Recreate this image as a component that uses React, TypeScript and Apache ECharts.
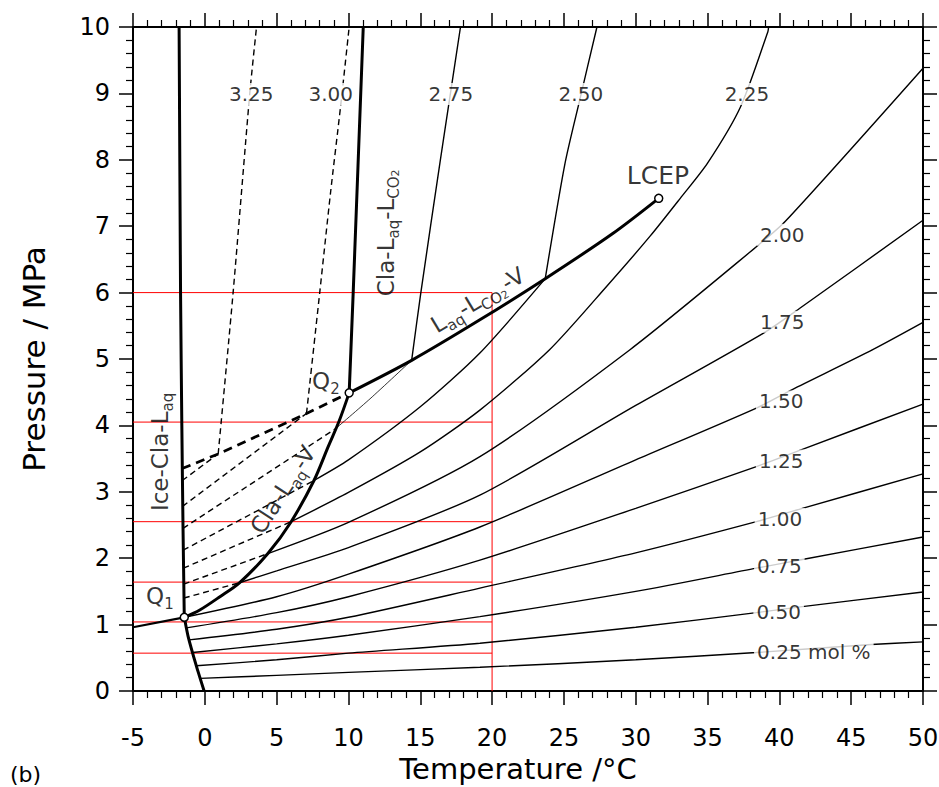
import React, { useEffect, useRef } from 'react';
import * as echarts from 'echarts';

const FONT = 'DejaVu Sans';

// Axis ranges (Temperature °C, Pressure MPa)
const xMin = -5;
const xMax = 50;
const xStep = 5;
const yMin = 0;
const yMax = 10;
const yStep = 1;

// Phase boundaries [T, P]
const iceClaLaq = [[-1.43, 1.11], [-1.52, 2.5], [-1.6, 4.0], [-1.69, 6.0], [-1.79, 10]];
const iceLaqV = [[-5, 0.96], [-1.43, 1.11]];
const iceLaqLow = [[-1.43, 1.11], [-1.16, 0.82], [-0.58, 0.37], [-0.05, 0]];
const claLaqV = [[-1.43, 1.11], [-0.35, 1.22], [1.05, 1.42], [2.41, 1.63], [4.39, 2.07], [6.01, 2.55], [7.6, 3.17], [8.59, 3.68], [9.36, 4.07], [10.05, 4.49]];
const claLaqLco2 = [[10.05, 4.49], [10.33, 6.0], [11.03, 10]];
const laqLco2V = [[10.05, 4.49], [14.4, 4.98], [19.15, 5.59], [23.7, 6.21], [28.4, 6.89], [31.6, 7.42]];
const metastableLV = [[-1.58, 3.35], [0.93, 3.57], [7.08, 4.18], [10.05, 4.49]];

// CO2 isopleths (mol %), solid parts
const iso025 = [[-0.32, 0.19], [5, 0.235], [10, 0.28], [19.15, 0.357], [30, 0.47], [38.4, 0.58], [46.4, 0.7], [50, 0.74]];
const iso050 = [[-0.59, 0.38], [5, 0.47], [10, 0.57], [19.15, 0.72], [30, 0.96], [38.4, 1.18], [41.6, 1.27], [50, 1.49]];
const iso075 = [[-0.85, 0.58], [5, 0.71], [10, 0.84], [19.15, 1.12], [30, 1.5], [38.4, 1.85], [41.6, 1.98], [50, 2.32]];
const iso100 = [[-1.1, 0.77], [5, 0.93], [10, 1.11], [19.15, 1.55], [30, 2.08], [38.4, 2.55], [41.6, 2.75], [50, 3.27]];
const iso125 = [[-1.28, 0.95], [5, 1.18], [10, 1.42], [19.15, 1.97], [30, 2.75], [38.4, 3.38], [41.6, 3.64], [50, 4.32]];
const iso150 = [[-1.43, 1.11], [5, 1.42], [10, 1.76], [19.15, 2.47], [30, 3.48], [38.4, 4.26], [40.9, 4.54], [46.5, 5.14], [50, 5.55]];
const iso175 = [[2.41, 1.63], [5, 1.81], [10, 2.16], [19.15, 2.95], [30, 4.3], [38.9, 5.39], [41.4, 5.76], [50, 7.09]];
const iso200 = [[4.39, 2.07], [10, 2.54], [19.15, 3.53], [29.6, 5.14], [38.4, 6.69], [40.4, 7.07], [50, 9.38]];
const iso225 = [[6.01, 2.55], [10, 2.99], [15, 3.6], [19.15, 4.23], [24, 5.14], [28, 6.1], [31, 6.85], [33.1, 7.42], [35, 7.95], [37.3, 8.8], [39.2, 9.93], [39.25, 10]];
const iso250Low = [[7.6, 3.17], [10, 3.48], [15, 4.28], [19.15, 5.09], [23.7, 6.21]];
const iso250High = [[23.7, 6.21], [25.07, 7.94], [26.1, 8.9], [27.3, 10]];
const iso275Thin = [[9.1, 3.95], [11.5, 4.4], [14.4, 4.98]];
const iso275High = [[14.4, 4.98], [15.04, 6.0], [16.4, 8.0], [17.1, 9.0], [17.8, 10]];
// dashed (metastable) parts
const iso300High = [[7.08, 4.18], [8.0, 6.0], [8.75, 7.5], [9.45, 8.8], [10.05, 10]];
const iso325High = [[0.93, 3.57], [1.97, 6.0], [3.13, 9.0], [3.6, 10]];
const dash175 = [[-1.46, 1.4], [2.41, 1.63]];
const dash200 = [[-1.47, 1.61], [4.39, 2.07]];
const dash225 = [[-1.49, 1.85], [6.01, 2.55]];
const dash250 = [[-1.51, 2.12], [7.6, 3.17]];
const dash275 = [[-1.52, 2.45], [9.1, 3.95]];
const dash300 = [[-1.55, 2.78], [7.08, 4.18]];
const dash325 = [[-1.57, 3.17], [0.93, 3.57]];

// red guide lines
const guidePressures = [6.0, 4.05, 2.55, 1.64, 1.04, 0.57];
const guideTemp = 20;

// special points: Q1, Q2, LCEP
const specialPoints = [[-1.43, 1.11], [10.05, 4.49], [31.6, 7.42]];

// isopleth labels
const isoLabelText = ['3.25', '3.00', '2.75', '2.50', '2.25', '2.00', '1.75', '1.50', '1.25', '1.00', '0.75', '0.50', '0.25 mol %'];
const isoLabelT = [3.23, 8.77, 17.13, 26.18, 37.74, 40.2, 40.2, 40.13, 40.13, 40.04, 40.0, 39.95, 42.4];
const isoLabelP = [8.99, 8.99, 8.99, 8.99, 8.99, 6.87, 5.56, 4.36, 3.47, 2.59, 1.88, 1.19, 0.59];

// region labels
const regionText = [
  '{m|Ice-Cla-L}{s|aq}',
  '{m|Cla-L}{s|aq}{m|-L}{s|CO}{ss|2}',
  '{m|L}{s|aq}{m|-L}{s|CO}{ss|2}{m|-V}',
  '{m|Cla-L}{s|aq}{m|-V}',
  '{m|Q}{s|2}',
  '{m|Q}{s|1}',
  '{b|LCEP}',
];
const regionT = [-3.13, 12.6, 19.0, 5.43, 8.43, -3.13, 31.55];
const regionP = [3.6, 6.9, 5.89, 3.03, 4.67, 1.43, 7.77];
const regionRot = [90, 90, 31, 57, 0, 0, 0];

function lineSeries(data: number[][], width: number, dash: any = 'solid', z = 3, smooth: any = 0.25) {
  return {
    type: 'line',
    data,
    showSymbol: false,
    symbol: 'none',
    smooth,
    silent: true,
    z,
    lineStyle: { color: '#000', width, type: dash, cap: 'butt' },
  };
}

function axisCommon(pos: string, showLabel: boolean) {
  return {
    position: pos,
    axisLine: { show: true, onZero: false, lineStyle: { color: '#000', width: 2 } },
    axisTick: { show: true, length: 14, lineStyle: { color: '#000', width: 1.5 } },
    minorTick: { show: true, splitNumber: 5, length: 7, lineStyle: { color: '#000', width: 1.2 } },
    splitLine: { show: false },
    minorSplitLine: { show: false },
    axisLabel: { show: showLabel, fontSize: 24, fontFamily: FONT, color: '#000' },
  };
}

export default function App() {
  const ref = useRef<HTMLDivElement>(null);
  useEffect(() => {
    if (!ref.current) return;
    const chart = echarts.init(ref.current, undefined, { renderer: 'svg' });

    const redSeries: any[] = guidePressures.map((p) => ({
      type: 'line',
      data: [[xMin, p], [guideTemp, p]],
      showSymbol: false,
      symbol: 'none',
      silent: true,
      z: 1,
      lineStyle: { color: '#ff0000', width: 1 },
    }));
    redSeries.push({
      type: 'line',
      data: [[guideTemp, yMin], [guideTemp, guidePressures[0]]],
      showSymbol: false,
      symbol: 'none',
      silent: true,
      z: 1,
      lineStyle: { color: '#ff0000', width: 1 },
    });

    const thin = 1.4;
    const thick = 3;
    const dashT = [6, 4];

    const series: any[] = [
      ...redSeries,
      lineSeries(iso025, thin),
      lineSeries(iso050, thin),
      lineSeries(iso075, thin),
      lineSeries(iso100, thin),
      lineSeries(iso125, thin),
      lineSeries(iso150, thin),
      lineSeries(iso175, thin),
      lineSeries(iso200, thin),
      lineSeries(iso225, thin),
      lineSeries(iso250Low, thin),
      lineSeries(iso250High, thin),
      lineSeries(iso275Thin, 0.8),
      lineSeries(iso275High, thin),
      lineSeries(iso300High, thin, dashT),
      lineSeries(iso325High, thin, dashT),
      lineSeries(dash175, thin, dashT, 3, false),
      lineSeries(dash200, thin, dashT, 3, false),
      lineSeries(dash225, thin, dashT, 3, false),
      lineSeries(dash250, thin, dashT, 3, false),
      lineSeries(dash275, thin, dashT, 3, false),
      lineSeries(dash300, thin, dashT, 3, false),
      lineSeries(dash325, thin, dashT, 3, false),
      lineSeries(metastableLV, 2.8, [9, 6], 4, false),
      lineSeries(iceClaLaq, thick, 'solid', 4, 0.2),
      lineSeries(iceLaqV, 2.2, 'solid', 4, false),
      lineSeries(iceLaqLow, thick, 'solid', 4, 0.2),
      lineSeries(claLaqV, thick, 'solid', 4, 0.3),
      lineSeries(claLaqLco2, thick, 'solid', 4, 0.2),
      lineSeries(laqLco2V, thick, 'solid', 4, 0.3),
      {
        type: 'scatter',
        data: specialPoints,
        symbol: 'circle',
        symbolSize: 8,
        silent: true,
        z: 6,
        itemStyle: { color: '#fff', borderColor: '#000', borderWidth: 1.5, opacity: 1 },
      },
      {
        type: 'scatter',
        silent: true,
        z: 7,
        symbolSize: 0,
        data: isoLabelText.map((t, i) => ({ value: [isoLabelT[i], isoLabelP[i]], name: t })),
        label: {
          show: true,
          position: 'inside',
          formatter: '{b}',
          fontSize: 20,
          fontFamily: FONT,
          color: '#000',
          backgroundColor: '#fff',
          padding: [1, 3],
        },
      },
      {
        type: 'scatter',
        silent: true,
        z: 7,
        symbolSize: 0,
        data: regionText.map((t, i) => ({
          value: [regionT[i], regionP[i]],
          label: { formatter: t, rotate: regionRot[i] },
        })),
        label: {
          show: true,
          position: 'inside',
          color: '#000',
          rich: {
            m: { fontSize: 23, fontFamily: FONT, color: '#000', lineHeight: 31 },
            b: { fontSize: 25, fontFamily: FONT, color: '#000', lineHeight: 31 },
            s: { fontSize: 15, fontFamily: FONT, color: '#000', lineHeight: 15, verticalAlign: 'bottom' },
            ss: { fontSize: 11, fontFamily: FONT, color: '#000', lineHeight: 11, verticalAlign: 'bottom' },
          },
        },
      },
    ];

    const xBottom: any = {
      type: 'value',
      min: xMin,
      max: xMax,
      interval: xStep,
      ...axisCommon('bottom', true),
      name: 'Temperature /°C',
      nameLocation: 'middle',
      nameGap: 63,
      nameMoveOverlap: false,
      nameTextStyle: { fontSize: 29, fontFamily: FONT, color: '#000', lineHeight: 29, padding: [0, 20, 0, 0] },
    };
    xBottom.axisLabel.margin = 35;
    xBottom.axisLabel.lineHeight = 24;
    const xTop: any = { type: 'value', min: xMin, max: xMax, interval: xStep, ...axisCommon('top', false) };
    const yLeft: any = {
      type: 'value',
      min: yMin,
      max: yMax,
      interval: yStep,
      ...axisCommon('left', true),
      name: 'Pressure / MPa',
      nameLocation: 'middle',
      nameGap: 84,
      nameMoveOverlap: false,
      nameTextStyle: { fontSize: 31, fontFamily: FONT, color: '#000' },
    };
    yLeft.axisLabel.margin = 23;
    const yRight: any = { type: 'value', min: yMin, max: yMax, interval: yStep, ...axisCommon('right', false) };

    chart.setOption({
      animation: false,
      backgroundColor: '#fff',
      grid: { left: 133, right: 16, top: 27, bottom: 96, containLabel: false, outerBoundsMode: 'none' },
      xAxis: [xBottom, xTop],
      yAxis: [yLeft, yRight],
      graphic: [
        {
          type: 'text',
          left: 10,
          top: 763,
          style: { text: '(b)', fontSize: 22, fontFamily: FONT, fill: '#000' },
        },
      ],
      series,
    });
    return () => chart.dispose();
  }, []);
  return (
    <div
      ref={ref}
      style={{ position: 'absolute', left: 0, top: 0, width: 939, height: 787, background: '#fff' }}
    />
  );
}
